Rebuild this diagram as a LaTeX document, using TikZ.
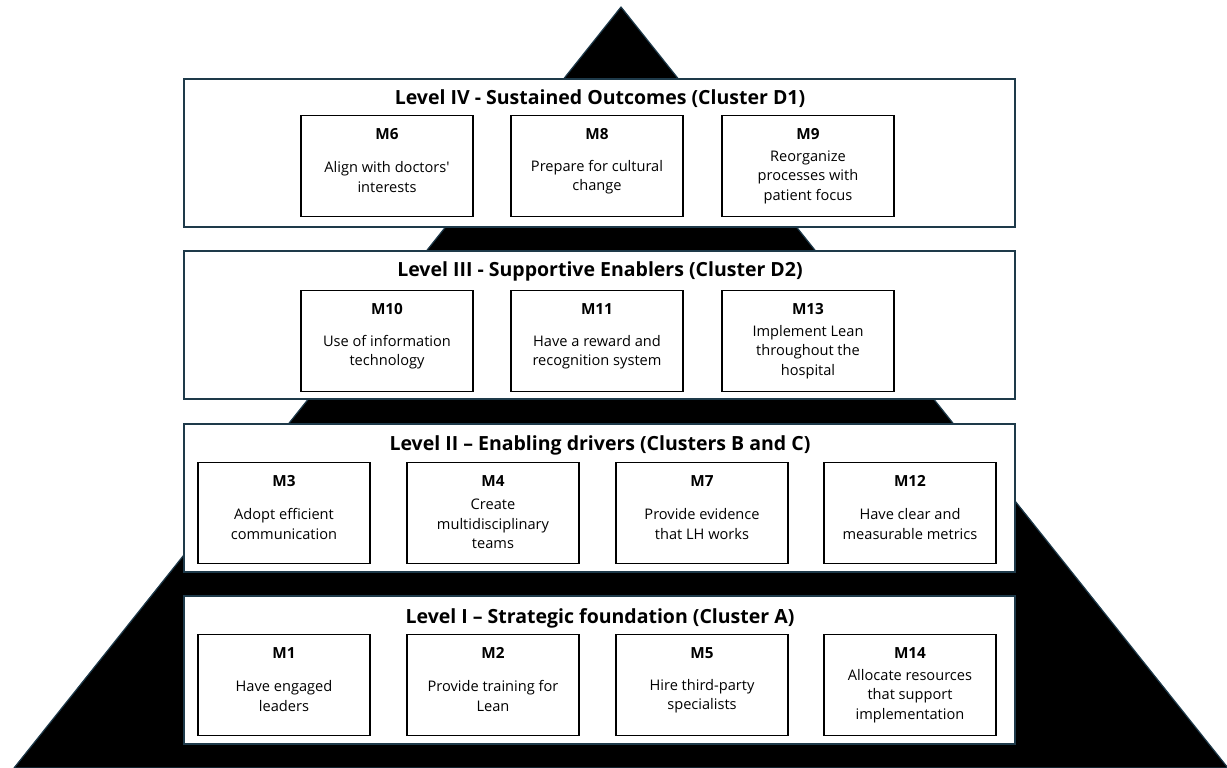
\documentclass[tikz,border=0pt]{standalone}
\usepackage{fontspec}
\setmainfont{Open Sans}[Ligatures=TeXOff]
\usetikzlibrary{calc}
\definecolor{edge}{HTML}{1E3A4A}
\tikzset{
  lvl/.style={draw=edge, line width=2pt, fill=white, minimum width=831pt, minimum height=148pt, inner sep=0pt},
  inbox/.style={draw=black, line width=1.4pt, fill=white, minimum width=172pt, minimum height=101pt, inner sep=0pt},
  ltitle/.style={font=\fontsize{19.5}{22}\selectfont\bfseries, inner sep=0pt},
  mlab/.style={font=\fontsize{15.3}{18}\selectfont\bfseries, inner sep=0pt},
  mbody/.style={font=\fontsize{14.6}{19.5}\selectfont, align=center, inner sep=0pt},
}
\newcommand\mbx[5]{%
  \node[inbox] (#1) at (#2,#3+50) {};
  \node[mlab] (#1-l) at (#2,#3+18) {#4};
  \node[mbody] (#1-b) at (#2,#3+61) {#5};
}
\begin{document}
\begin{tikzpicture}[x=1pt,y=-1pt]
\useasboundingbox[fill=white] (0,0) rectangle (1227,768);
\coordinate (apex) at (621,7);
\coordinate (bl) at (14,768);
\coordinate (br) at (1228,768);
\draw[edge, line width=1.2pt, fill=black, line join=round] (apex) -- (br) -- (bl) -- cycle;

\node[lvl] (L4) at (599.5,153) {};
\node[lvl] (L3) at (599.5,325) {};
\node[lvl] (L2) at (599.5,497.5) {};
\node[lvl] (L1) at (599.5,670) {};

\node[ltitle] (t4) at (600,99) {Level IV - Sustained Outcomes (Cluster D1)};
\node[ltitle] (t3) at (600,271) {Level III - Supportive Enablers (Cluster D2)};
\node[ltitle] (t2) at (600,445) {Level II – Enabling drivers (Clusters B and C)};
\node[ltitle] (t1) at (600,618) {Level I – Strategic foundation (Cluster A)};

\mbx{m6}{387}{116}{M6}{Align with doctors'\\interests}
\mbx{m8}{597}{116}{M8}{Prepare for cultural\\change}
\mbx{m9}{808}{116}{M9}{Reorganize\\processes with\\patient focus}

\mbx{m10}{387}{291}{M10}{Use of information\\technology}
\mbx{m11}{597}{291}{M11}{Have a reward and\\recognition system}
\mbx{m13}{808}{291}{M13}{Implement Lean\\throughout the\\hospital}

\mbx{m3}{284}{463}{M3}{Adopt efficient\\communication}
\mbx{m4}{493}{463}{M4}{Create\\multidisciplinary\\teams}
\mbx{m7}{702}{463}{M7}{Provide evidence\\that LH works}
\mbx{m12}{910}{463}{M12}{Have clear and\\measurable metrics}

\mbx{m1}{284}{635}{M1}{Have engaged\\leaders}
\mbx{m2}{493}{635}{M2}{Provide training for\\Lean}
\mbx{m5}{702}{635}{M5}{Hire third-party\\specialists}
\mbx{m14}{910}{635}{M14}{Allocate resources\\that support\\implementation}
\end{tikzpicture}
\end{document}
